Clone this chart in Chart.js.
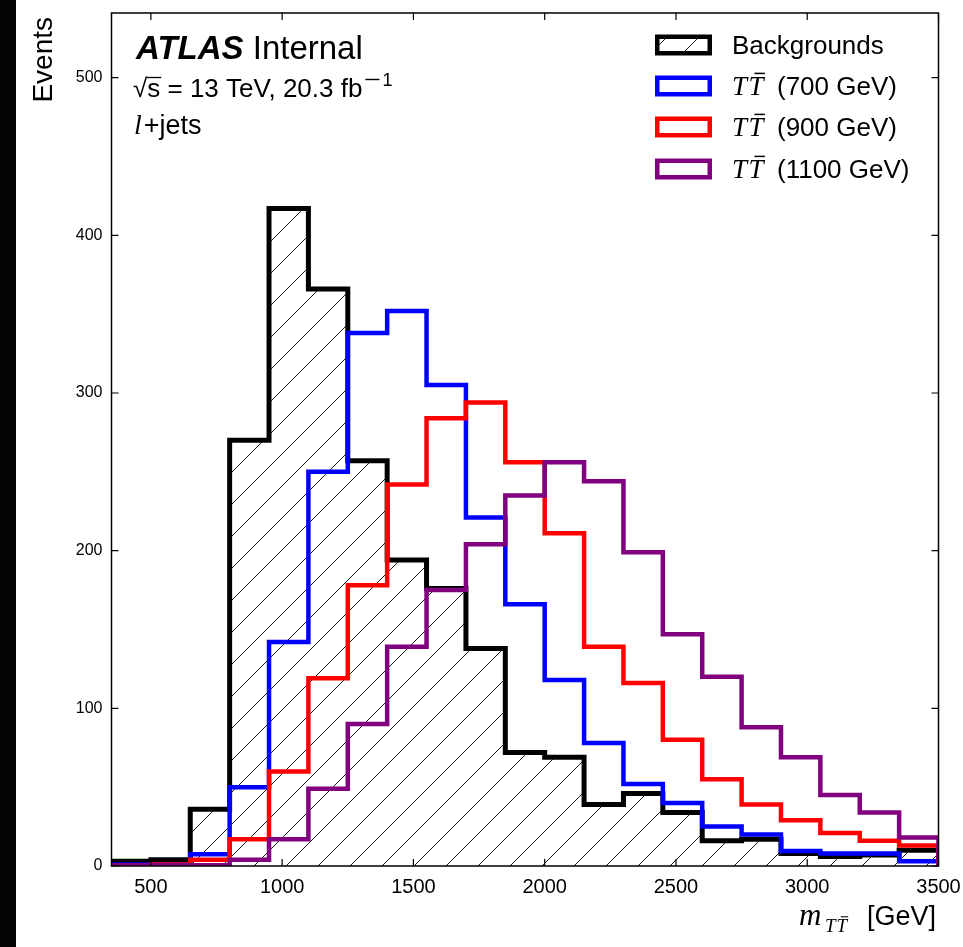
<!DOCTYPE html>
<html>
<head>
<meta charset="utf-8">
<script src="https://cdn.jsdelivr.net/npm/chart.js@4.4.0/dist/chart.umd.min.js"></script>
<style>
  html, body { margin: 0; padding: 0; background: #fff; }
  #wrap { width: 963px; height: 947px; }
</style>
</head>
<body>
<div id="wrap"><canvas id="mass-chart" width="963" height="947"></canvas></div>
<script>
// m_TT bin edges [GeV]
const binEdges = [350, 500, 650, 800, 950, 1100, 1250, 1400, 1550, 1700, 1850, 2000,
                  2150, 2300, 2450, 2600, 2750, 2900, 3050, 3200, 3350, 3500];

// events per bin
const backgrounds = [3, 4, 36, 270, 417, 366, 257, 194, 176, 138, 72, 69, 39, 46, 34, 16, 17, 8, 6, 7, 10];
const tt700  = [1, 1, 7.5, 50, 142, 250, 338, 352, 305, 221, 166, 118, 78, 52, 40, 25, 20, 9.5, 8, 8, 3];
const tt900  = [0.5, 1, 4, 17, 60, 119, 178, 242, 284, 294, 256, 211, 139, 116, 80, 55, 39, 29, 21, 16, 13];
const tt1100 = [0.5, 0.5, 0.5, 4, 17, 49, 90, 139, 175, 204, 235, 256, 244, 199, 147, 120, 88, 69, 45, 34, 18];

const xTicks = [500, 1000, 1500, 2000, 2500, 3000, 3500];
const yTicks = [0, 100, 200, 300, 400, 500];
const massLabels = ['(700 GeV)', '(900 GeV)', '(1100 GeV)'];
const lineColors = ['#0000ff', '#ff0000', '#800080'];

const SANS = '"Liberation Sans", Arial, sans-serif';
const SERIF = '"Liberation Serif", "Times New Roman", serif';

// histogram outline: up at first edge, flat over each bin, down at last edge
function stepPoints(values) {
  const pts = [{ x: binEdges[0], y: 0 }];
  values.forEach((v, i) => pts.push({ x: binEdges[i], y: v }));
  const last = binEdges[binEdges.length - 1];
  pts.push({ x: last, y: values[values.length - 1] });
  pts.push({ x: last, y: 0 });
  return pts;
}

function makeHatch(ctx) {
  const size = 32;
  const c = document.createElement('canvas');
  c.width = size; c.height = size;
  const g = c.getContext('2d');
  g.strokeStyle = '#1a1a1a';
  g.lineWidth = 1;
  g.beginPath();
  g.moveTo(-2, size + 2); g.lineTo(size + 2, -2);
  g.moveTo(-2, 2); g.lineTo(2, -2);
  g.moveTo(size - 2, size + 2); g.lineTo(size + 2, size - 2);
  g.stroke();
  return ctx.createPattern(c, 'repeat');
}

const canvas = document.getElementById('mass-chart');
const ctx = canvas.getContext('2d');
const hatch = makeHatch(ctx);

// white page with the dark strip on the left edge
const pageBg = {
  id: 'pageBg',
  beforeDraw(chart) {
    const c = chart.ctx;
    c.save();
    c.fillStyle = '#fff';
    c.fillRect(0, 0, chart.width, chart.height);
    c.fillStyle = '#050505';
    c.fillRect(0, 0, 16, chart.height);
    c.restore();
  }
};

function drawTT(c, x, y, size) {
  c.font = 'italic ' + size + 'px ' + SERIF;
  c.fillText('T', x, y);
  const w = c.measureText('T').width;
  const x2 = x + w * 1.1;
  c.fillText('T', x2, y);
  c.save();
  c.lineWidth = Math.max(1, size / 18);
  c.beginPath();
  c.moveTo(x2 + size * 0.22, y - size * 0.8);
  c.lineTo(x2 + w + size * 0.05, y - size * 0.8);
  c.stroke();
  c.restore();
  return x2 + w - x;
}

const decorations = {
  id: 'decorations',
  afterDraw(chart) {
    const c = chart.ctx;
    const a = chart.chartArea;
    const xs = chart.scales.x, ys = chart.scales.y;
    c.save();
    c.strokeStyle = '#000';
    c.fillStyle = '#000';

    // frame
    c.lineWidth = 1.5;
    c.strokeRect(a.left, a.top, a.right - a.left, a.bottom - a.top);

    // inward ticks on all four sides
    c.lineWidth = 1.2;
    c.beginPath();
    xTicks.forEach(v => {
      const px = xs.getPixelForValue(v);
      c.moveTo(px, a.bottom); c.lineTo(px, a.bottom - 7);
      c.moveTo(px, a.top); c.lineTo(px, a.top + 7);
    });
    yTicks.forEach(v => {
      const py = ys.getPixelForValue(v);
      c.moveTo(a.left, py); c.lineTo(a.left + 7, py);
      c.moveTo(a.right, py); c.lineTo(a.right - 7, py);
    });
    c.stroke();

    // ATLAS label block
    c.textBaseline = 'alphabetic';
    c.textAlign = 'left';
    c.font = 'italic bold 33px ' + SANS;
    c.fillText('ATLAS', 136, 59);
    let w = c.measureText('ATLAS').width;
    c.font = '33px ' + SANS;
    c.fillText(' Internal', 136 + w, 59);

    c.font = '26px ' + SANS;
    c.fillText('\u221A', 133, 97);
    let x = 133 + c.measureText('\u221A').width;
    c.fillText('s', x, 97);
    const sw = c.measureText('s').width;
    c.save();
    c.lineWidth = 1.3;
    c.beginPath();
    c.moveTo(x - 1, 77.5); c.lineTo(x + sw + 1, 77.5);
    c.stroke();
    c.restore();
    x += sw;
    const txt = ' = 13 TeV, 20.3 fb';
    c.fillText(txt, x, 97);
    x += c.measureText(txt).width;
    // superscript -1
    c.save();
    c.lineWidth = 1.4;
    c.beginPath();
    c.moveTo(x + 3, 79.5); c.lineTo(x + 17, 79.5);
    c.stroke();
    c.restore();
    c.font = '18px ' + SANS;
    c.fillText('1', x + 20, 86);

    c.font = 'italic 28px ' + SERIF;
    c.fillText('l', 134, 134);
    x = 134 + c.measureText('l').width + 2;
    c.font = '27px ' + SANS;
    c.fillText('+jets', x, 134);

    // legend
    const rows = [45, 86, 127, 169];
    rows.forEach((cy, i) => {
      c.save();
      c.lineWidth = 4.5;
      if (i === 0) {
        c.fillStyle = hatch;
        c.fillRect(657, cy - 8, 53, 16);
        c.strokeStyle = '#000';
      } else {
        c.strokeStyle = lineColors[i - 1];
      }
      c.strokeRect(657.25, cy - 8.25, 52.5, 16.5);
      c.restore();
      const base = cy + 9;
      if (i === 0) {
        c.font = '26px ' + SANS;
        c.fillText('Backgrounds', 732, base);
      } else {
        drawTT(c, 732, base, 27);
        c.font = '26px ' + SANS;
        c.fillText(massLabels[i - 1], 777, base);
      }
    });

    // x axis title
    c.font = '27px ' + SANS;
    c.textAlign = 'right';
    c.fillText('[GeV]', 936, 925);
    c.textAlign = 'left';
    c.font = 'italic 31px ' + SERIF;
    c.fillText('m', 799, 925);
    drawTT(c, 825, 932, 19);

    // y axis title
    c.save();
    c.translate(52, 17);
    c.rotate(-Math.PI / 2);
    c.textAlign = 'right';
    c.font = '28px ' + SANS;
    c.fillText('Events', 0, 0);
    c.restore();

    c.restore();
  }
};

new Chart(ctx, {
  type: 'line',
  data: {
    datasets: [
      {
        label: 'Backgrounds',
        data: stepPoints(backgrounds),
        borderColor: '#000',
        borderWidth: 5,
        backgroundColor: hatch,
        fill: 'origin',
        order: 4
      },
      {
        label: 'TT 700',
        data: stepPoints(tt700),
        borderColor: lineColors[0],
        borderWidth: 4.5,
        fill: false,
        order: 3
      },
      {
        label: 'TT 900',
        data: stepPoints(tt900),
        borderColor: lineColors[1],
        borderWidth: 4.5,
        fill: false,
        order: 2
      },
      {
        label: 'TT 1100',
        data: stepPoints(tt1100),
        borderColor: lineColors[2],
        borderWidth: 4.5,
        fill: false,
        order: 1
      }
    ]
  },
  options: {
    responsive: false,
    animation: false,
    events: [],
    elements: {
      line: { stepped: true, tension: 0, borderJoinStyle: 'miter', borderCapStyle: 'butt' },
      point: { radius: 0 }
    },
    layout: { padding: { left: 0, right: 24.5, top: 13, bottom: 0 } },
    plugins: {
      legend: { display: false },
      tooltip: { enabled: false },
      title: { display: false }
    },
    scales: {
      x: {
        type: 'linear',
        min: 350,
        max: 3500,
        afterFit(scale) {
          scale.height = 81;
          scale.paddingLeft = 0;
          scale.paddingRight = 0;
        },
        afterBuildTicks(scale) { scale.ticks = xTicks.map(v => ({ value: v })); },
        grid: { display: false, drawTicks: false },
        border: { display: false },
        ticks: {
          color: '#000',
          font: { family: SANS, size: 20 },
          padding: 9,
          maxRotation: 0,
          autoSkip: false,
          callback: v => String(v)
        }
      },
      y: {
        type: 'linear',
        min: 0,
        max: 541,
        afterFit(scale) {
          scale.width = 111.5;
          scale.paddingTop = 0;
          scale.paddingBottom = 0;
        },
        afterBuildTicks(scale) { scale.ticks = yTicks.map(v => ({ value: v })); },
        grid: { display: false, drawTicks: false },
        border: { display: false },
        ticks: {
          color: '#000',
          font: { family: SANS, size: 16 },
          padding: 9,
          callback: v => String(v)
        }
      }
    }
  },
  plugins: [pageBg, decorations]
});
</script>
</body>
</html>
